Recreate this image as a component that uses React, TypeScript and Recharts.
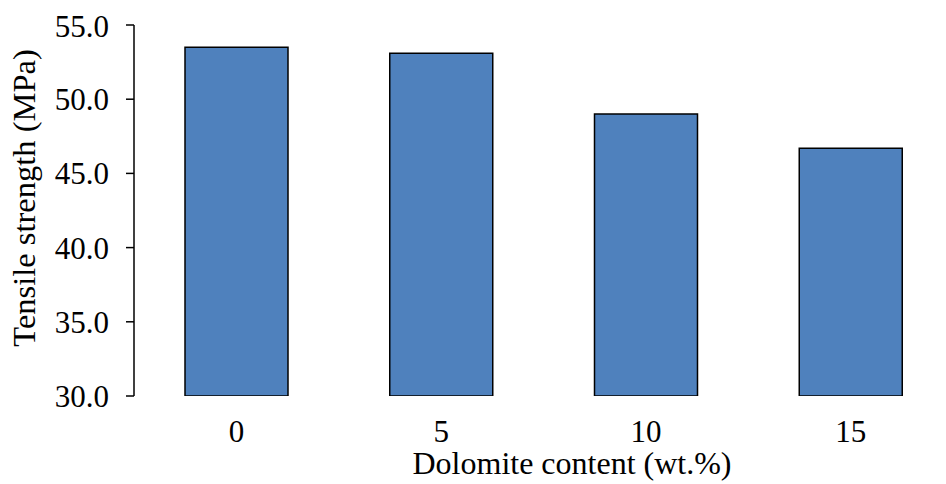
import React from 'react';
import { BarChart, Bar, XAxis, YAxis } from 'recharts';

/* -------------------------------------------------------
   DATA
-------------------------------------------------------- */
const dolomiteContent = ['0', '5', '10', '15'];
const tensileStrength = [53.5, 53.1, 49.0, 46.7];
const yTicks = [30, 35, 40, 45, 50, 55];
const categoryEdges = [0, 1, 2, 3, 4];

const data = dolomiteContent.map((c, i) => ({ content: c, strength: tensileStrength[i] }));

const FONT = '"Liberation Serif", "Times New Roman", serif';
const FS = 31;

const YTitle = () => (
  <text
    x={27}
    y={190}
    transform="rotate(-90, 27, 190)"
    textAnchor="middle"
    fontFamily={FONT}
    fontSize={32.5}
    fill="#000"
  >
    Tensile strength (MPa)
  </text>
);

const XTitle = () => (
  <text x={564} y={466} textAnchor="middle" fontFamily={FONT} fontSize={32} fill="#000">
    Dolomite content (wt.%)
  </text>
);

/* -------------------------------------------------------
   COMPONENT
-------------------------------------------------------- */
export default function App() {
  return (
    <div style={{ width: 938, height: 476, overflow: 'hidden', background: '#fff' }}>
      <BarChart
        width={960}
        height={476}
        data={data}
        margin={{ top: 17, right: 15, bottom: 0, left: 0 }}
      >
        {/* tick marks at category boundaries, Excel style */}
        <XAxis
          xAxisId="edge"
          type="number"
          domain={[0, 4]}
          ticks={categoryEdges}
          tickFormatter={() => ''}
          height={0}
          tickSize={8}
          axisLine={{ stroke: '#000', strokeWidth: 1.5 }}
          tickLine={{ stroke: '#000', strokeWidth: 1.5 }}
          allowDataOverflow
        />
        <XAxis
          xAxisId="cat"
          dataKey="content"
          height={88}
          axisLine={false}
          tickLine={false}
          tickSize={0}
          tickMargin={24}
          tick={{ fill: '#000', fontFamily: FONT, fontSize: FS }}
          label={{ content: () => <XTitle /> }}
        />
        <YAxis
          width={126}
          domain={[30, 55]}
          ticks={yTicks}
          tickFormatter={(v: number) => v.toFixed(1)}
          tickSize={8}
          tickMargin={17}
          axisLine={{ stroke: '#000', strokeWidth: 1.5 }}
          tickLine={{ stroke: '#000', strokeWidth: 1.5 }}
          tick={{ fill: '#000', fontFamily: FONT, fontSize: FS }}
          allowDataOverflow
          label={{ content: () => <YTitle /> }}
        />
        <Bar
          xAxisId="cat"
          dataKey="strength"
          fill="#4F81BD"
          stroke="#000"
          strokeWidth={1.5}
          barSize={103}
          isAnimationActive={false}
        />
      </BarChart>
    </div>
  );
}
